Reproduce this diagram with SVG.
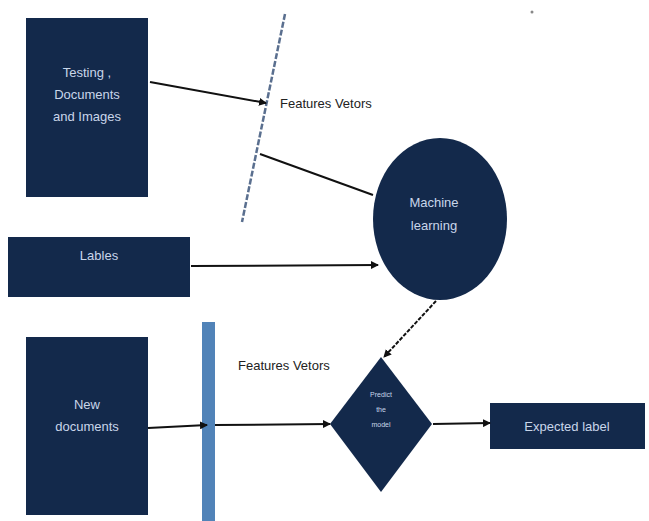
<svg xmlns="http://www.w3.org/2000/svg" width="649" height="521" viewBox="0 0 649 521">
<style>
.node{fill:#13294b}
.t{font-family:"Liberation Sans",Arial,sans-serif;fill:#c9d6ea;text-anchor:middle}
.lbl{font-family:"Liberation Sans",Arial,sans-serif;fill:#222;font-size:13px}
.c{stroke:#111;stroke-width:2;fill:none}
</style>
<defs>
<marker id="ah" markerWidth="8" markerHeight="8" refX="7" refY="4" orient="auto" markerUnits="userSpaceOnUse">
<path d="M0,0 L8,4 L0,8 z" fill="#111"/>
</marker>
</defs>
<rect width="649" height="521" fill="#fff"/>
<circle cx="532" cy="12" r="1.5" fill="#888"/>
<g id="fv1">
<line x1="285" y1="14" x2="242" y2="222" stroke="#5a6f8f" stroke-width="2.5" stroke-dasharray="6,2"/>
<text class="lbl" x="280" y="108">Features Vetors</text>
</g>
<g id="fv2">
<rect x="202" y="322" width="13" height="199" fill="#5183b8"/>
<text class="lbl" x="238" y="370">Features Vetors</text>
</g>
<g id="testing">
<rect class="node" x="26" y="18" width="122" height="179"/>
<text class="t" font-size="13"><tspan x="87" y="77">Testing ,</tspan><tspan x="87" y="99">Documents</tspan><tspan x="87" y="121">and Images</tspan></text>
</g>
<g id="ml">
<ellipse class="node" cx="440" cy="219" rx="67" ry="81"/>
<text class="t" font-size="13" fill="#dde4ee"><tspan x="434" y="207">Machine</tspan><tspan x="434" y="230">learning</tspan></text>
</g>
<g id="lables">
<rect class="node" x="8" y="237" width="182" height="60"/>
<text class="t" font-size="13" x="99" y="260">Lables</text>
</g>
<g id="newdocs">
<rect class="node" x="26" y="337" width="122" height="178"/>
<text class="t" font-size="13"><tspan x="87" y="409">New</tspan><tspan x="87" y="431">documents</tspan></text>
</g>
<g id="predict">
<polygon class="node" points="381,357 432,424 381,492 330,424"/>
<text class="t" font-size="7" fill="#fff"><tspan x="381" y="397">Predict</tspan><tspan x="381" y="412">the</tspan><tspan x="381" y="427">model</tspan></text>
</g>
<g id="expected">
<rect class="node" x="490" y="403" width="155" height="46"/>
<text class="t" font-size="13" fill="#dde4ee" x="567" y="431">Expected label</text>
</g>
<g id="connectors">
<path class="c" d="M150,82 L266,103" marker-end="url(#ah)"/>
<path class="c" d="M260,154 L373,195"/>
<path class="c" d="M191,266 L378,265" marker-end="url(#ah)"/>
<path class="c" d="M436,301 L384,357" stroke-dasharray="4,1.5" marker-end="url(#ah)"/>
<path class="c" d="M148,428 L207,425" marker-end="url(#ah)"/>
<path class="c" d="M215,425 L330,424" marker-end="url(#ah)"/>
<path class="c" d="M433,424 L490,423" marker-end="url(#ah)"/>
</g>
</svg>
